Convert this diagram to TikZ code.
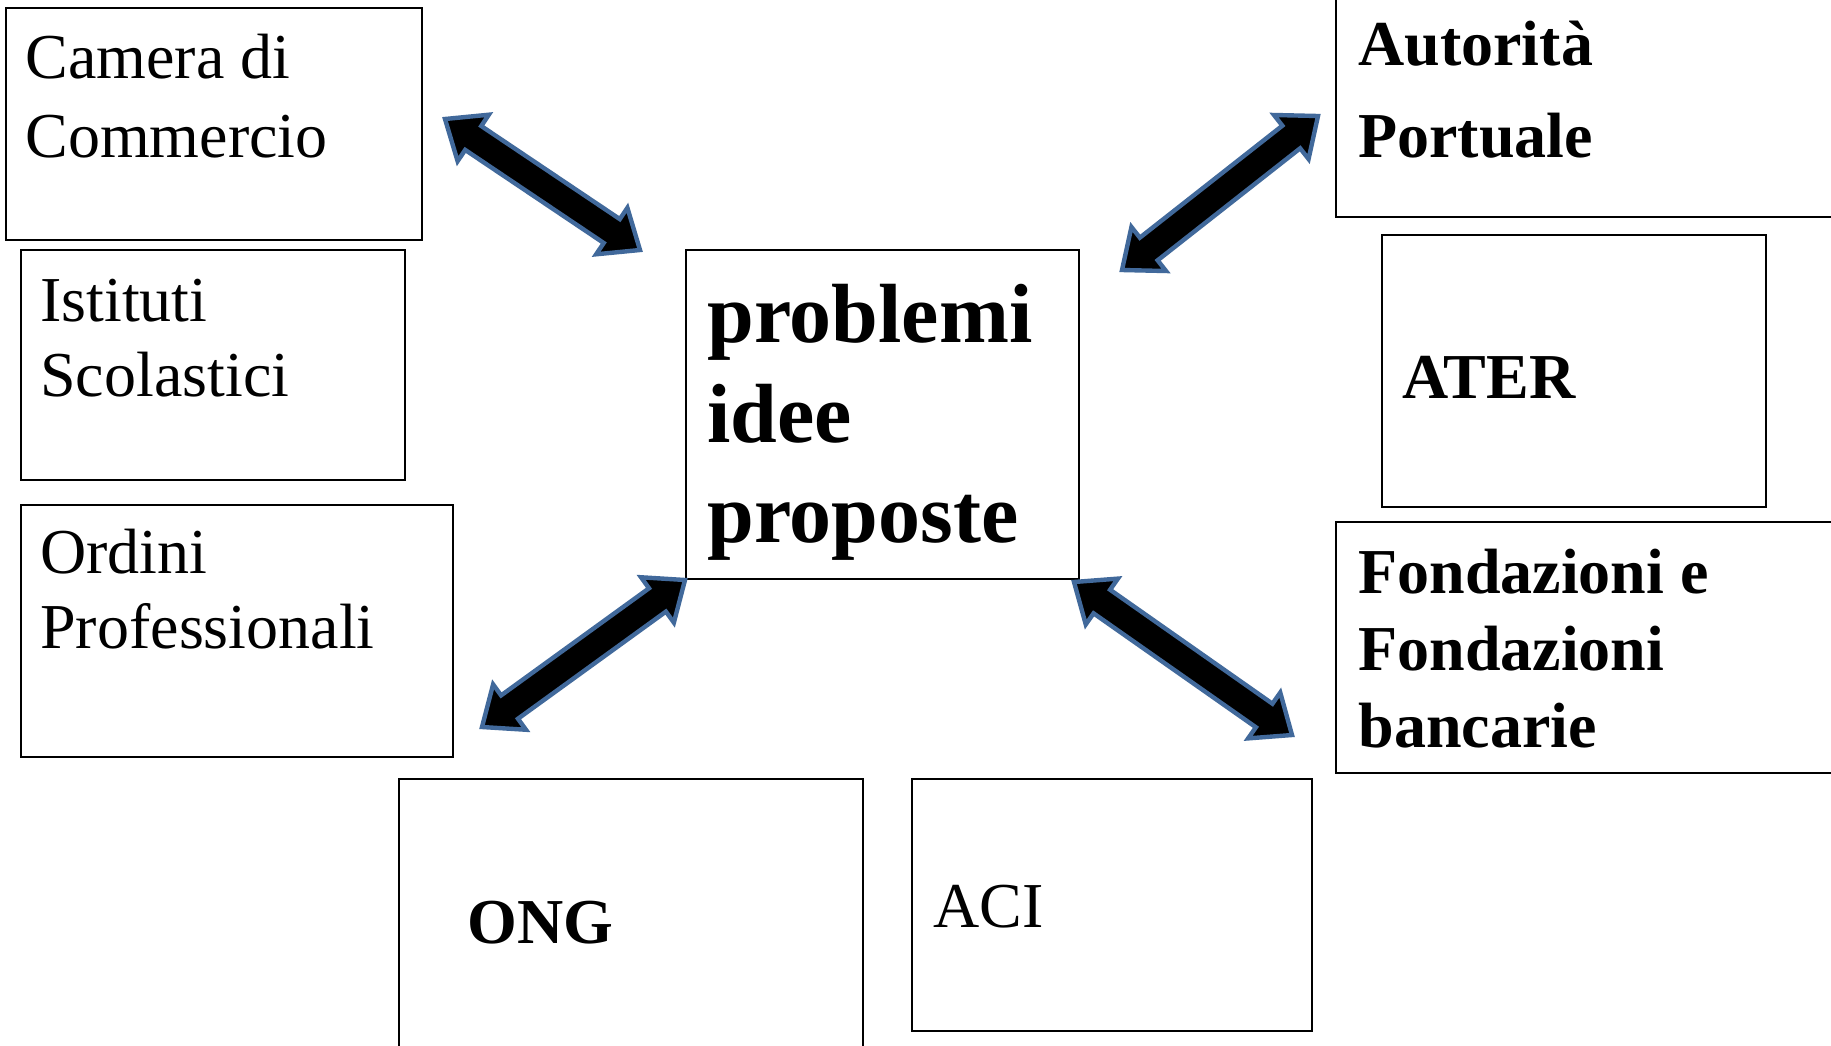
\documentclass[tikz,border=0pt]{standalone}
\usepackage{fontspec}
\setmainfont{Liberation Serif}
\usetikzlibrary{calc,fit}
\definecolor{arrowblue}{RGB}{65,105,155}
\tikzset{
  box/.style={draw=black, line width=1pt, inner sep=0pt, rectangle},
  sidetext/.style={anchor=base west, inner sep=0pt, align=left, font=\fontsize{32}{38.5}\selectfont},
  sidebold/.style={anchor=base west, inner sep=0pt, align=left, font=\bfseries\fontsize{32}{38.5}\selectfont},
  fatarrow/.style={fill=black, draw=arrowblue, line width=2.2pt, line join=miter},
}
\newcommand\fatdouble[2]{%
  \filldraw[fatarrow] (#1)
    -- ($(#1)!17pt!(#2)!14pt!90:(#2)$)
    -- ($(#1)!17pt!(#2)!7.2pt!90:(#2)$)
    -- ($(#2)!17pt!(#1)!7.2pt!-90:(#1)$)
    -- ($(#2)!17pt!(#1)!14pt!-90:(#1)$)
    -- (#2)
    -- ($(#2)!17pt!(#1)!14pt!90:(#1)$)
    -- ($(#2)!17pt!(#1)!7.2pt!90:(#1)$)
    -- ($(#1)!17pt!(#2)!7.2pt!-90:(#2)$)
    -- ($(#1)!17pt!(#2)!14pt!-90:(#2)$)
    -- cycle;}
\begin{document}
\begin{tikzpicture}[x=0.5pt, y=-0.5pt]
  \useasboundingbox (0,0) rectangle (1831,1045);
  \clip (0,0) rectangle (1831,1045);
  \fill[white] (0,0) rectangle (1831,1045);

  % boxes
  \node[box, fit={(6,8) (422,240)}] (camera) {};
  \node[box, fit={(21,250) (405,480)}] (istituti) {};
  \node[box, fit={(21,505) (453,757)}] (ordini) {};
  \node[box, fit={(399,779) (863,1070)}] (ong) {};
  \node[box, fit={(912,779) (1312,1031)}] (aci) {};
  \node[box, fit={(686,250) (1079,579)}] (centro) {};
  \node[box, fit={(1336,-30) (1860,217)}] (autorita) {};
  \node[box, fit={(1382,235) (1766,507)}] (ater) {};
  \node[box, fit={(1336,522) (1860,773)}] (fondazioni) {};

  % texts (anchor = baseline of the last line)
  \node[sidetext, font=\fontsize{32}{39.5}\selectfont] (tcamera) at (25,157) {Camera di\\Commercio};
  \node[sidetext, font=\fontsize{32}{37.5}\selectfont] (tistituti) at (40,396) {Istituti\\Scolastici};
  \node[sidetext, font=\fontsize{32}{37.5}\selectfont] (tordini) at (40,648) {Ordini\\Professionali};
  \node[sidebold] (tong) at (467,943) {ONG};
  \node[sidetext] (taci) at (933,927) {ACI};
  \node[sidebold, font=\bfseries\fontsize{42}{50}\selectfont] (tcentro) at (707,542) {problemi\\idee\\proposte};
  \node[sidebold, font=\bfseries\fontsize{32}{46}\selectfont] (tautorita) at (1358,157) {Autorità\\Portuale};
  \node[sidebold] (tater) at (1402,398) {ATER};
  \node[sidebold] (tfondazioni) at (1358,747) {Fondazioni e\\Fondazioni\\bancarie};

  % arrow end points
  \coordinate (a1s) at (445,119);
  \coordinate (a1e) at (640,250);
  \coordinate (a2s) at (1318,116);
  \coordinate (a2e) at (1122,270);
  \coordinate (a3s) at (685,580);
  \coordinate (a3e) at (482,727);
  \coordinate (a4s) at (1074,582);
  \coordinate (a4e) at (1292,735);

  \fatdouble{a1s}{a1e}
  \fatdouble{a2s}{a2e}
  \fatdouble{a3s}{a3e}
  \fatdouble{a4s}{a4e}
\end{tikzpicture}
\end{document}
